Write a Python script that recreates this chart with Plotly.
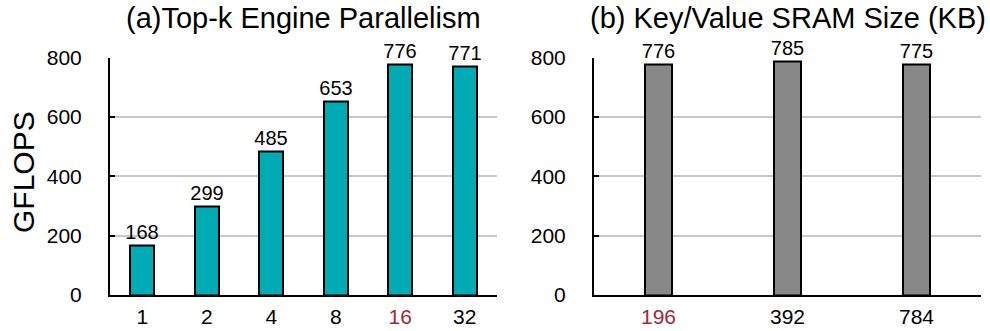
import plotly.graph_objects as go

# Panel (a): Top-k engine parallelism
parallelism = ["1", "2", "4", "8", "16", "32"]
gflops_parallel = [168, 299, 485, 653, 776, 771]

# Panel (b): Key/Value SRAM size (KB)
sram_kb = ["196", "392", "784"]
gflops_sram = [776, 785, 775]

y_ticks = [0, 200, 400, 600, 800]
highlight = {"16", "196"}

TEAL = "#00ABB6"
GRAY = "#888888"
RED = "#A3253B"
FONT = "Liberation Sans, Arial, sans-serif"

W, H = 990, 331


def tick_text(cats):
    return [f"<span style='color:{RED}'>{c}</span>" if c in highlight else c for c in cats]


fig = go.Figure()

fig.add_trace(go.Bar(
    x=parallelism, y=gflops_parallel, xaxis="x", yaxis="y",
    marker=dict(color=TEAL, line=dict(color="black", width=2)),
    width=0.37,
    text=gflops_parallel, textposition="outside", cliponaxis=False,
    constraintext="none",
    textfont=dict(size=20, color="black", family=FONT),
    hoverinfo="x+y", showlegend=False,
))

fig.add_trace(go.Bar(
    x=sram_kb, y=gflops_sram, xaxis="x2", yaxis="y2",
    marker=dict(color=GRAY, line=dict(color="black", width=2)),
    width=0.21,
    text=gflops_sram, textposition="outside", cliponaxis=False,
    constraintext="none",
    textfont=dict(size=20, color="black", family=FONT),
    hoverinfo="x+y", showlegend=False,
))

y_dom = [(H - 295) / H, (H - 57.5) / H]

common_y = dict(
    range=[0, 800], tickvals=y_ticks, ticks="inside", ticklen=5, tickwidth=2,
    tickcolor="black", showline=True, linecolor="black", linewidth=2,
    showgrid=True, gridcolor="#C8C8C8", gridwidth=1.5, zeroline=False,
    tickfont=dict(size=21, color="black", family=FONT), ticklabelstandoff=22,
    domain=y_dom, fixedrange=True, automargin=False,
)
common_x = dict(
    type="category", showline=True, linecolor="black", linewidth=2,
    ticks="", showgrid=False, zeroline=False,
    tickfont=dict(size=21, color="black", family=FONT), ticklabelstandoff=2,
    fixedrange=True, automargin=False,
)

fig.update_layout(
    width=W, height=H,
    margin=dict(l=0, r=0, t=0, b=0, autoexpand=False),
    paper_bgcolor="white", plot_bgcolor="white",
    font=dict(family=FONT, color="black"),
    xaxis=dict(common_x, domain=[110 / W, 497 / W], anchor="y",
               range=[-0.5, 5.5], tickvals=parallelism, ticktext=tick_text(parallelism)),
    yaxis=dict(common_y, anchor="x"),
    xaxis2=dict(common_x, domain=[594 / W, 981 / W], anchor="y2",
                range=[-0.5, 2.5], tickvals=sram_kb, ticktext=tick_text(sram_kb)),
    yaxis2=dict(common_y, anchor="x2"),
    annotations=[
        dict(text="GFLOPS", x=23 / W, y=1 - 172 / H, textangle=-90,
             xref="paper", yref="paper", showarrow=False, xanchor="center", yanchor="middle",
             font=dict(size=30, family=FONT, color="black")),
        dict(text="(a)Top-k Engine Parallelism", x=(110 + 497) / 2 / W, y=1 - 18 / H,
             xref="paper", yref="paper", showarrow=False, xanchor="center", yanchor="middle",
             font=dict(size=29, family=FONT, color="black")),
        dict(text="(b) Key/Value SRAM Size (KB)", x=(594 + 981) / 2 / W, y=1 - 18 / H,
             xref="paper", yref="paper", showarrow=False, xanchor="center", yanchor="middle",
             font=dict(size=29, family=FONT, color="black")),
    ],
    bargap=0,
)

fig.write_html("out.html")
